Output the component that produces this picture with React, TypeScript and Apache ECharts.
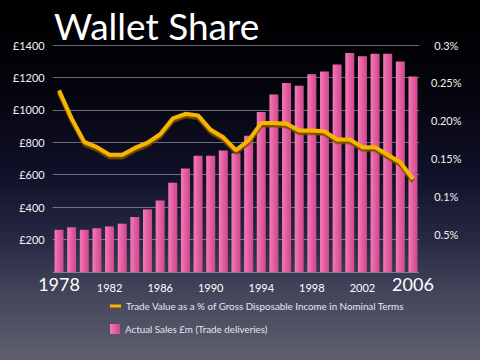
import React, { useEffect, useRef } from "react";
import * as echarts from "echarts";

const years = [
  "1978", "1979", "1980", "1981", "1982", "1983", "1984", "1985", "1986", "1987",
  "1988", "1989", "1990", "1991", "1992", "1993", "1994", "1995", "1996", "1997",
  "1998", "1999", "2000", "2001", "2002", "2003", "2004", "2005", "2006",
];

// Actual Sales £m (Trade deliveries)
const sales = [
  260, 276, 260, 270, 281, 298, 339, 386, 441, 550,
  639, 717, 717, 750, 733, 841, 987, 1095, 1166, 1148,
  1219, 1237, 1279, 1350, 1331, 1346, 1346, 1299, 1205,
];

// Trade Value as a % of Gross Disposable Income in Nominal Terms
const tradeShare = [
  0.240, 0.203, 0.172, 0.165, 0.155, 0.155, 0.164, 0.171, 0.182, 0.203,
  0.209, 0.207, 0.188, 0.178, 0.161, 0.174, 0.197, 0.197, 0.196, 0.187,
  0.187, 0.186, 0.175, 0.175, 0.165, 0.165, 0.155, 0.145, 0.123,
];

const leftTicks: Record<number, string> = {
  200: "£200", 400: "£400", 600: "£600", 800: "£800",
  1000: "£1000", 1200: "£1200", 1400: "£1400",
};
const rightTicks = ["", "0.5%", "0.1%", "0.15%", "0.20%", "0.25%", "0.3%"];

const SALES_NAME = "Actual Sales £m (Trade deliveries)";
const SHARE_NAME = "Trade Value as a % of Gross Disposable Income in Nominal Terms";

export default function App() {
  const ref = useRef<HTMLDivElement>(null);
  useEffect(() => {
    if (!ref.current) return;
    const chart = echarts.init(ref.current, null, { renderer: "svg" });
    const font = "Lato, 'Open Sans', sans-serif";
    const legendText = { color: "#e6e6ec", fontSize: 9.8, fontFamily: font };
    chart.setOption({
      animation: false,
      title: {
        text: "Wallet Share",
        left: 49,
        top: 2,
        textStyle: { color: "#ffffff", fontSize: 37, fontWeight: "normal", fontFamily: font },
      },
      legend: [
        {
          left: 105,
          top: 296,
          icon: "rect",
          itemWidth: 11,
          itemHeight: 3,
          itemGap: 0,
          textStyle: legendText,
          data: [SHARE_NAME],
        },
        {
          left: 105,
          top: 319,
          icon: "rect",
          itemWidth: 10,
          itemHeight: 10,
          itemGap: 0,
          textStyle: legendText,
          data: [SALES_NAME],
        },
      ],
      grid: { left: 52.7, right: 60.7, top: 45, bottom: 88 },
      xAxis: {
        type: "category",
        data: years,
        axisLine: { show: false },
        axisTick: { show: false },
        axisLabel: {
          interval: 3,
          margin: 10,
          color: "#ffffff",
          fontSize: 11,
          fontFamily: font,
          formatter: (v: string, i: number) => (i === 0 || i === years.length - 1 ? `{big|${v}}` : v),
          rich: { big: { fontSize: 18, lineHeight: 3, color: "#ffffff", fontFamily: font } },
        },
      },
      yAxis: [
        {
          type: "value",
          min: 0,
          max: 1400,
          interval: 200,
          axisLine: { show: false },
          axisTick: { show: false },
          splitLine: { lineStyle: { color: "rgba(190,190,205,0.55)", width: 1 } },
          axisLabel: {
            color: "#f2f2f2",
            fontSize: 11,
            fontFamily: font,
            margin: 8,
            formatter: (v: number) => leftTicks[v] ?? "",
          },
        },
        {
          type: "value",
          min: 0,
          max: 0.3,
          interval: 0.05,
          position: "right",
          axisLine: { show: false },
          axisTick: { show: false },
          splitLine: { show: false },
          axisLabel: {
            color: "#f2f2f2",
            fontSize: 11,
            fontFamily: font,
            align: "center",
            margin: 27,
            formatter: (v: number) => rightTicks[Math.round(v / 0.05)] ?? "",
          },
        },
      ],
      series: [
        {
          name: SALES_NAME,
          type: "bar",
          data: sales,
          barWidth: 9,
          itemStyle: {
            color: new echarts.graphic.LinearGradient(0, 0, 1, 0, [
              { offset: 0, color: "#f27cb6" },
              { offset: 0.5, color: "#e55ca1" },
              { offset: 1, color: "#cc4a8a" },
            ]),
          },
        },
        {
          name: SHARE_NAME,
          type: "line",
          yAxisIndex: 1,
          data: tradeShare,
          symbol: "none",
          z: 5,
          lineStyle: {
            color: "#f7b500",
            width: 4,
            shadowColor: "rgba(125,80,0,0.95)",
            shadowOffsetY: 2.5,
            shadowBlur: 0,
          },
          itemStyle: { color: "#f7b500" },
        },
      ],
    });
    return () => chart.dispose();
  }, []);
  return (
    <div
      ref={ref}
      style={{
        position: "fixed",
        left: 0,
        top: 0,
        width: 480,
        height: 360,
        background:
          "linear-gradient(to bottom, #000000 0%, #03030a 22%, #101028 48%, #262842 66%, #45465c 82%, #5e5f6e 100%)",
      }}
    />
  );
}
